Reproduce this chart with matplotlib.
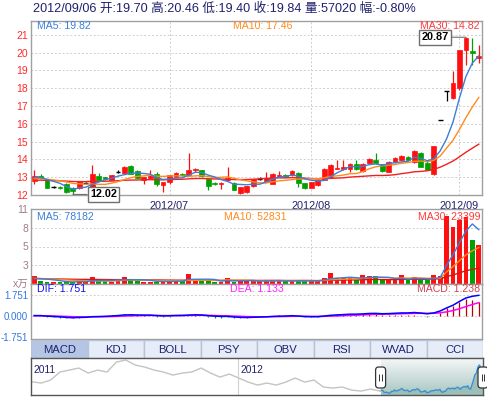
import numpy as np
import pandas as pd
import matplotlib
matplotlib.use('Agg')
import matplotlib.pyplot as plt
from matplotlib.patches import Rectangle, FancyBboxPatch
from matplotlib.colors import LinearSegmentedColormap

plt.rcParams['font.family'] = ['Liberation Sans', 'Noto Sans CJK SC', 'DejaVu Sans']

W, H = 487, 397

# ---------------- data ----------------
title = "2012/09/06 开:19.70 高:20.46 低:19.40 收:19.84 量:57020 幅:-0.80%"

opens = [12.75, 13.05, 12.85, 12.42, 12.44, 12.60, 12.36, 12.36, 12.66, 12.42,
         13.07, 12.98, 12.85, 13.28, 13.22, 13.63, 13.35, 12.82, 12.97, 13.16,
         12.55, 12.70, 13.02, 13.20, 13.13, 13.37, 13.38, 12.88, 12.64, 12.60,
         12.82, 12.66, 12.10, 12.18, 12.47, 12.90, 12.76, 12.62, 13.00, 13.13,
         13.10, 13.25, 12.64, 12.41, 12.53, 12.86, 13.03, 13.48, 13.44, 13.44,
         13.72, 13.35, 13.78, 13.95, 13.72, 13.30, 13.85, 13.95, 14.15, 13.85,
         14.38, 13.80, 13.16, 16.21, 17.83, 17.45, 18.03, 20.15, 20.12, 19.70]
closes = [13.05, 12.95, 12.40, 12.42, 12.40, 12.15, 12.20, 12.75, 12.66, 13.16,
          12.82, 12.90, 13.10, 13.28, 13.58, 13.20, 12.95, 13.00, 13.07, 12.60,
          12.70, 13.10, 13.24, 13.12, 13.42, 13.46, 13.05, 12.50, 12.60, 12.68,
          12.94, 12.28, 12.42, 12.50, 12.88, 12.90, 12.94, 13.19, 13.10, 13.02,
          13.32, 12.64, 12.41, 12.70, 12.82, 13.46, 13.69, 13.52, 13.57, 13.72,
          13.45, 13.75, 14.00, 13.78, 13.35, 13.85, 14.08, 14.20, 13.98, 14.45,
          13.55, 13.40, 14.74, 16.21, 17.83, 18.31, 20.14, 20.80, 20.00, 19.84]
highs = [13.42, 13.20, 12.88, 12.48, 12.50, 12.65, 12.42, 12.80, 12.72, 13.67,
         13.25, 13.00, 13.12, 13.40, 13.62, 13.66, 13.38, 13.02, 13.42, 13.30,
         12.74, 13.12, 13.28, 13.25, 14.34, 13.50, 13.42, 12.95, 12.70, 12.72,
         13.55, 12.70, 12.45, 12.52, 12.90, 12.98, 13.30, 13.22, 13.36, 13.18,
         13.42, 13.30, 12.68, 12.74, 12.86, 13.50, 13.72, 13.95, 13.95, 13.78,
         13.98, 13.80, 14.05, 14.34, 13.75, 13.88, 14.12, 14.25, 14.20, 14.50,
         14.42, 13.88, 14.74, 16.21, 17.83, 18.97, 20.14, 20.87, 20.84, 20.46]
lows = [12.62, 12.88, 12.38, 12.36, 12.33, 12.10, 12.02, 12.30, 12.60, 12.38,
        12.78, 12.85, 12.82, 13.25, 13.20, 13.15, 12.92, 12.60, 12.95, 12.48,
        12.17, 12.62, 13.00, 13.08, 13.10, 13.30, 13.00, 12.28, 12.55, 12.30,
        12.80, 12.25, 12.05, 12.10, 12.42, 12.82, 12.74, 12.60, 12.98, 12.98,
        13.08, 12.45, 12.35, 12.38, 12.50, 12.82, 13.00, 13.45, 13.40, 13.30,
        13.40, 13.30, 13.75, 13.72, 13.30, 13.28, 13.80, 13.90, 13.90, 13.80,
        13.55, 13.38, 13.10, 16.21, 17.28, 17.40, 17.88, 19.30, 19.30, 19.40]
# volume, in 万手
volumes = [1.10, 0.50, 0.25, 0.30, 0.30, 0.35, 0.30, 0.40, 0.30, 1.05,
           0.45, 0.45, 0.30, 0.70, 1.05, 0.55, 0.45, 0.30, 0.35, 0.30,
           0.40, 0.50, 0.45, 0.45, 1.50, 0.55, 0.50, 0.50, 0.25, 0.35,
           0.90, 0.35, 0.45, 0.40, 0.55, 0.40, 0.45, 0.50, 0.45, 0.40,
           0.45, 0.55, 0.45, 0.50, 0.45, 0.90, 1.60, 0.80, 0.80, 0.80,
           0.55, 1.30, 1.20, 1.20, 0.55, 0.55, 0.55, 1.30, 0.55, 1.00,
           0.55, 0.55, 1.30, 1.20, 9.90, 8.20, 9.30, 9.70, 6.40, 5.70]
# closes / volumes before the visible window (estimated from where the MA lines start)
prior_close = [12.70, 12.78, 12.85, 12.72, 12.66, 12.80, 12.90, 12.75, 12.68, 12.74,
               12.82, 12.79, 12.70, 12.84, 12.88, 12.76, 12.72, 12.80, 12.86, 12.78,
               12.74, 12.82, 12.86, 12.78, 12.90, 13.00, 12.95, 12.92, 12.98]
prior_vol = [0.80, 0.70, 0.90, 0.60, 0.75, 0.85, 0.70, 0.65, 0.90, 0.80,
             0.70, 0.75, 0.60, 0.85, 0.90, 0.70, 0.65, 0.80, 0.75, 0.70,
             0.85, 0.60, 0.70, 0.80, 0.90, 0.75, 0.70, 0.80, 0.85]

month_idx = [21, 43, 66]
month_labels = ['2012/07', '2012/08', '2012/09']
price_ticks = list(range(12, 22))
vol_ticks = [0, 2.715, 5.43, 8.145, 10.86]
vol_tick_labels = ['x万', '3', '5', '8', '11']
macd_ticks = [-1.751, 0.0, 1.751]
macd_tick_labels = ['-1.751', '0.000', '1.751']

main_labels = ['MA5: 19.82', 'MA10: 17.46', 'MA30: 14.82']
vol_labels = ['MA5: 78182', 'MA10: 52831', 'MA30: 23399']
macd_labels = ['DIF: 1.751', 'DEA: 1.133', 'MACD: 1.238']
tabs = ['MACD', 'KDJ', 'BOLL', 'PSY', 'OBV', 'RSI', 'WVAD', 'CCI']

# navigator: price history before the window (sampled evenly), 2011 .. 2012-05
nav_vals = [15.66, 15.26, 16.18, 18.64, 19.25, 19.87, 18.33, 19.25, 18.64, 21.71,
            22.32, 20.79, 20.18, 19.25, 18.64, 17.72, 18.33, 18.64, 19.87, 18.33,
            17.10, 18.03, 16.80, 15.57, 14.65, 15.26, 14.65, 15.57, 16.80, 15.57,
            16.18, 14.04, 13.73, 14.04, 13.11, 12.80, 13.42, 12.80]
nav_years = ['2011', '2012']
nav_prior_days = 239
nav_year_day = 141

# ---------------- derived ----------------
n = len(closes)
idx = np.arange(n)
c_all = pd.Series(prior_close + closes)
v_all = pd.Series(prior_vol + volumes)
k = len(prior_close)
ma = {p: c_all.rolling(p, min_periods=1).mean().iloc[k:].values for p in (5, 10, 30)}
vma = {p: v_all.rolling(p, min_periods=1).mean().iloc[k:].values for p in (5, 10, 30)}
ema12 = c_all.ewm(span=12, adjust=False).mean()
ema26 = c_all.ewm(span=26, adjust=False).mean()
dif = ema12 - ema26
dea = dif.ewm(span=9, adjust=False).mean()
hist = (2 * (dif - dea)).iloc[k:].values
dif = dif.iloc[k:].values
dea = dea.iloc[k:].values

RED = '#ff1010'
GREEN = '#00a000'
C_MA5, C_MA10, C_MA30 = '#3b7fd6', '#ff8a1e', '#f02020'
NAVY = '#20206e'
GRID = dict(color='#cfcfcf', lw=0.7, ls=(0, (2, 2)))
SPINE = '#a0a0a0'

fig = plt.figure(figsize=(W / 100, H / 100), dpi=100)
fig.patch.set_facecolor('white')


def add_ax(x0, y0, x1, y1):
    return fig.add_axes([x0 / W, 1 - y1 / H, (x1 - x0) / W, (y1 - y0) / H])


def ftext(x, y, s, **kw):
    kw.setdefault('va', 'center')
    fig.text(x / W, 1 - y / H, s, **kw)


def style(ax):
    for s in ax.spines.values():
        s.set_color(SPINE)
        s.set_linewidth(1)
    ax.tick_params(length=0, labelsize=7.5, pad=2)


# ---------------- main candle panel ----------------
ax = add_ax(31, 21, 482, 195)
style(ax)
ax.set_xlim(-0.5, n - 0.5)
ax.set_ylim(11.99, 21.785)
for p in price_ticks[1:]:
    ax.axhline(p, zorder=0, **GRID)
for m in month_idx:
    ax.axvline(m, zorder=0, **GRID)
bw = 0.74
for i in range(n):
    o, h, l, c = opens[i], highs[i], lows[i], closes[i]
    if c > o:
        col = RED
    elif c < o:
        col = GREEN
    else:
        col = 'black'
    ax.vlines(i, l, h, color=col, lw=0.9, zorder=2)
    if c == o:
        ax.hlines(c, i - bw / 2, i + bw / 2, color=col, lw=1.0, zorder=2)
    else:
        ax.add_patch(Rectangle((i - bw / 2, min(o, c)), bw, abs(c - o),
                               facecolor=col, edgecolor=col, lw=0.5, zorder=2))
ax.plot(idx, ma[30], color=C_MA30, lw=1.0, zorder=3)
ax.plot(idx, ma[10], color=C_MA10, lw=1.0, zorder=3)
ax.plot(idx, ma[5], color=C_MA5, lw=1.0, zorder=3)
ax.set_yticks(price_ticks)
ax.set_yticklabels([str(p) for p in price_ticks], color='#ff2a2a')
ax.set_xticks(month_idx)
ax.set_xticklabels(month_labels, color=NAVY, fontsize=7.8)
ax.tick_params(axis='x', pad=4)

i_hi = int(np.argmax(highs))
i_lo = int(np.argmin(lows))
box = dict(boxstyle='square,pad=0.22', fc='white', ec='#707070', lw=1)
ax.annotate(f'{highs[i_hi]:.2f}', xy=(i_hi, highs[i_hi]), xytext=(-22, 0),
            textcoords='offset points', ha='center', va='center', fontsize=7.8,
            fontweight='bold', bbox=box, zorder=6, annotation_clip=False,
            arrowprops=dict(arrowstyle='-', color='#707070', lw=0.8, shrinkA=0, shrinkB=0))
ax.annotate(f'{lows[i_lo]:.2f}', xy=(i_lo, lows[i_lo]), xytext=(22, 0),
            textcoords='offset points', ha='center', va='center', fontsize=7.8,
            fontweight='bold', bbox=box, zorder=6, annotation_clip=False,
            arrowprops=dict(arrowstyle='-', color='#707070', lw=0.8, shrinkA=0, shrinkB=0))

# ---------------- volume panel ----------------
axv = add_ax(31, 209, 482, 284)
style(axv)
axv.set_xlim(-0.5, n - 0.5)
axv.set_ylim(0, vol_ticks[-1])
for t in vol_ticks[1:-1]:
    axv.axhline(t, zorder=0, **GRID)
for m in month_idx:
    axv.axvline(m, zorder=0, **GRID)
vcols = [RED if closes[i] >= opens[i] else GREEN for i in range(n)]
axv.bar(idx, volumes, width=bw, color=vcols, zorder=2)
axv.plot(idx, vma[30], color='#e01010', lw=1.0, zorder=3)
axv.plot(idx, vma[10], color=C_MA10, lw=1.0, zorder=3)
axv.plot(idx, vma[5], color=C_MA5, lw=1.0, zorder=3)
axv.set_yticks(vol_ticks)
axv.set_yticklabels(vol_tick_labels, color='#a07a8c')
axv.set_xticks([])

# ---------------- MACD panel ----------------
axm = add_ax(31, 284, 482, 339)
style(axm)
axm.set_xlim(-0.5, n - 0.5)
axm.set_ylim(-1.88, 2.68)
axm.axhline(1.751, zorder=0, **GRID)
axm.axhline(0, zorder=0, **GRID)
hcols = ['#c00000' if h >= 0 else GREEN for h in hist]
axm.vlines(idx, 0, hist, colors=hcols, lw=0.9, zorder=2)
axm.plot(idx, dea, color='#ff00ff', lw=1.1, zorder=3)
axm.plot(idx, dif, color='#0000ff', lw=1.1, zorder=3)
axm.set_yticks(macd_ticks)
axm.set_yticklabels(macd_tick_labels, color='#3377dd', fontsize=7)
axm.set_xticks([])

# panel texts
fs = 7.6
ftext(37, 26, main_labels[0], color=C_MA5, fontsize=fs)
ftext(233, 26, main_labels[1], color=C_MA10, fontsize=fs)
ftext(480, 26, main_labels[2], color='#ff3a3a', fontsize=fs, ha='right')
ftext(37, 217, vol_labels[0], color=C_MA5, fontsize=fs)
ftext(224, 217, vol_labels[1], color=C_MA10, fontsize=fs)
ftext(480, 217, vol_labels[2], color='#ff3a3a', fontsize=fs, ha='right')
ftext(37, 289, macd_labels[0], color='#1010ee', fontsize=fs)
ftext(230, 289, macd_labels[1], color='#ff22ff', fontsize=fs)
ftext(480, 289, macd_labels[2], color='#d04050', fontsize=fs, ha='right')

# title
ftext(33, 9, title, color=NAVY, fontsize=9.1)

# ---------------- tabs ----------------
axt = add_ax(31, 340, 483, 358)
axt.set_xlim(0, len(tabs))
axt.set_ylim(0, 1)
axt.axis('off')
for j, name in enumerate(tabs):
    fc = '#b4c6e4' if j == 0 else '#e6edf8'
    axt.add_patch(Rectangle((j, 0), 1, 1, facecolor=fc, edgecolor='#b9c3d6', lw=1))
    axt.text(j + 0.5, 0.47, name, ha='center', va='center', fontsize=8.1, color=NAVY)

# ---------------- navigator ----------------
axn = add_ax(31, 358, 483, 395)
total = nav_prior_days + n
NY0, NY1 = 11.6, 22.95
for s in axn.spines.values():
    s.set_color('#555555')
    s.set_linewidth(1)
axn.set_xticks([])
axn.set_yticks([])
nav_x = np.linspace(0, nav_prior_days - 1, len(nav_vals))
axn.plot(nav_x, nav_vals, color='#c4c4c4', lw=1.0)
axn.plot([nav_x[-1], nav_prior_days], [nav_vals[-1], closes[0]], color='#c4c4c4', lw=1.0)
axn.axvline(nav_year_day, color='#d0d0d0', lw=0.8)
axn.text(1, 19.4, nav_years[0], color=NAVY, fontsize=7.4, va='center')
axn.text(nav_year_day + 1.5, 19.4, nav_years[1], color=NAVY, fontsize=7.4, va='center')
sel0, sel1 = nav_prior_days - 0.5, total - 0.5
grad = np.linspace(0, 1, 64).reshape(-1, 1)
cmap = LinearSegmentedColormap.from_list('sel', ['#f4f8f7', '#a9c6c1'])
axn.imshow(grad, cmap=cmap, aspect='auto', extent=(sel0, sel1, NY0, NY1),
           origin='upper', zorder=1)
sel_x = np.arange(nav_prior_days, total)
axn.fill_between(sel_x, NY0, closes, color='#9dbfba', zorder=2, lw=0)
axn.plot(sel_x, closes, color='#3b90d0', lw=1.0, zorder=3)
axn.set_xlim(-0.5, total - 0.5)
axn.set_ylim(NY0, NY1)
# handles: ~10 px wide, ~21 px tall
hw = 10 / 452 * total
hh = 21 / 37 * (NY1 - NY0)
hy = 16.97
for hx in (sel0, sel1):
    hb = FancyBboxPatch((hx - hw / 2, hy - hh / 2), hw, hh,
                        boxstyle='round,pad=0,rounding_size=2.2',
                        mutation_aspect=0.45, facecolor='white', edgecolor='#333333',
                        lw=0.9, zorder=5, clip_on=False)
    axn.add_patch(hb)
    axn.vlines([hx - 0.9, hx + 0.9], hy - 1.0, hy + 1.0, color='#333333', lw=0.7,
               zorder=6, clip_on=False)

fig.savefig('out.png', dpi=100, facecolor='white')
